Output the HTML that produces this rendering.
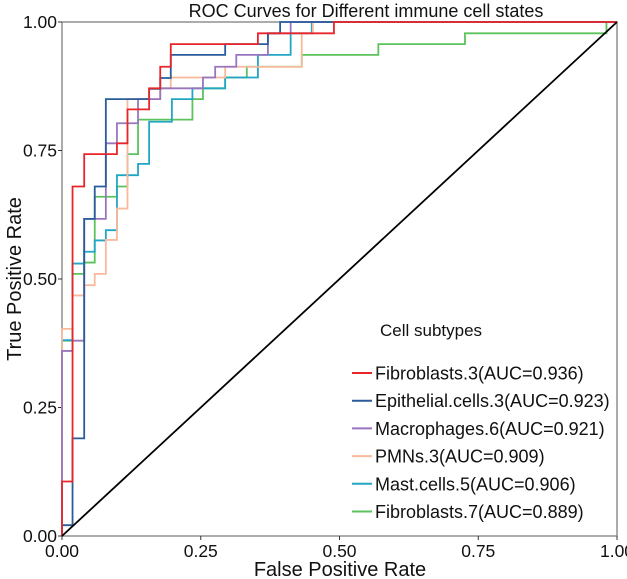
<!DOCTYPE html>
<html><head><meta charset="utf-8"><style>
html,body{margin:0;padding:0;background:#fff;}
svg{display:block;font-family:"Liberation Sans",Arial,sans-serif;}
</style></head><body>
<svg id="chart" width="627" height="579">
<text x="366" y="17" font-size="18" text-anchor="middle" fill="#111">ROC Curves for Different immune cell states</text>
<g id="axes"></g>
<g id="series"></g>
<g id="legend"></g>
<text x="340" y="576" font-size="20" text-anchor="middle" fill="#111">False Positive Rate</text>
<text transform="translate(21,279) rotate(-90)" font-size="20" text-anchor="middle" fill="#111">True Positive Rate</text>
</svg>
<script>
const ticks = [0, 0.25, 0.5, 0.75, 1];
const tickLabels = ["0.00","0.25","0.50","0.75","1.00"];
const seriesNames = ["Fibroblasts.3(AUC=0.936)","Epithelial.cells.3(AUC=0.923)","Macrophages.6(AUC=0.921)","PMNs.3(AUC=0.909)","Mast.cells.5(AUC=0.906)","Fibroblasts.7(AUC=0.889)"];
const seriesColors = ["#e8262a","#2a5b9a","#9a75bf","#f9b99b","#22a6c6","#5cc25c"];
const fprRed = [0,0,0.019,0.019,0.04,0.04,0.099,0.099,0.118,0.118,0.157,0.157,0.177,0.177,0.196,0.196,0.353,0.353,0.49,0.49,1];
const tprRed = [0,0.106,0.106,0.68,0.68,0.743,0.743,0.764,0.764,0.83,0.83,0.871,0.871,0.913,0.913,0.957,0.957,0.978,0.978,1,1];
const fprBlue = [0,0,0.019,0.019,0.04,0.04,0.059,0.059,0.079,0.079,0.157,0.157,0.177,0.177,0.196,0.196,0.294,0.294,0.371,0.371,0.393,0.393,1];
const tprBlue = [0,0.021,0.021,0.19,0.19,0.617,0.617,0.68,0.68,0.85,0.85,0.87,0.87,0.891,0.891,0.936,0.936,0.957,0.957,0.978,0.978,1,1];
const fprPurple = [0,0,0.019,0.019,0.04,0.04,0.079,0.079,0.099,0.099,0.137,0.137,0.177,0.177,0.254,0.254,0.276,0.276,0.314,0.314,0.371,0.371,0.412,0.412,1];
const tprPurple = [0,0.36,0.36,0.38,0.38,0.617,0.617,0.764,0.764,0.803,0.803,0.85,0.85,0.871,0.871,0.892,0.892,0.913,0.913,0.936,0.936,0.978,0.978,1,1];
const fprPeach = [0,0,0.019,0.019,0.04,0.04,0.059,0.059,0.079,0.079,0.099,0.099,0.118,0.118,0.177,0.177,0.196,0.196,0.294,0.294,0.432,0.432,0.452,0.452,1];
const tprPeach = [0,0.403,0.403,0.468,0.468,0.488,0.488,0.51,0.51,0.576,0.576,0.637,0.637,0.85,0.85,0.871,0.871,0.892,0.892,0.913,0.913,0.978,0.978,1,1];
const fprCyan = [0,0,0.019,0.019,0.04,0.04,0.059,0.059,0.079,0.079,0.099,0.099,0.137,0.137,0.157,0.157,0.198,0.198,0.235,0.235,0.294,0.294,0.353,0.353,0.412,0.412,0.45,0.45,1];
const tprCyan = [0,0.381,0.381,0.53,0.53,0.553,0.553,0.575,0.575,0.595,0.595,0.702,0.702,0.724,0.724,0.806,0.806,0.85,0.85,0.871,0.871,0.892,0.892,0.936,0.936,0.978,0.978,1,1];
const fprGreen = [0,0,0.019,0.019,0.04,0.04,0.059,0.059,0.099,0.099,0.118,0.118,0.137,0.137,0.235,0.235,0.254,0.254,0.294,0.294,0.333,0.333,0.432,0.432,0.57,0.57,0.726,0.726,0.981,0.981,1];
const tprGreen = [0,0.38,0.38,0.51,0.51,0.532,0.532,0.66,0.66,0.68,0.68,0.743,0.743,0.81,0.81,0.85,0.85,0.871,0.871,0.892,0.892,0.913,0.913,0.936,0.936,0.957,0.957,0.978,0.978,1,1];
const seriesFpr = [fprRed,fprBlue,fprPurple,fprPeach,fprCyan,fprGreen];
const seriesTpr = [tprRed,tprBlue,tprPurple,tprPeach,tprCyan,tprGreen];

const X0=62, X1=617, Y0=536, Y1=22;
function sx(v){return X0+(X1-X0)*v;}
function sy(v){return Y0-(Y0-Y1)*v;}
const NS="http://www.w3.org/2000/svg";
function mk(tag,attrs,parent){const e=document.createElementNS(NS,tag);for(const k in attrs)e.setAttribute(k,attrs[k]);parent.appendChild(e);return e;}
const axes=document.getElementById('axes');
const frame=mk('rect',{x:X0,y:Y1,width:X1-X0,height:Y0-Y1,fill:'none',stroke:'#7f7f7f','stroke-width':1.3},axes);


ticks.forEach((t,i)=>{
  const xt=mk('line',{x1:sx(t),x2:sx(t),y1:Y0,y2:Y0+4,stroke:'#333'},axes);
  
  
  const xl=mk('text',{x:sx(t),y:Y0+21,'font-size':17.5,'text-anchor':'middle',fill:'#111'},axes);
  xl.textContent=tickLabels[i];
  
  
  const yt=mk('line',{x1:X0-4,x2:X0,y1:sy(t),y2:sy(t),stroke:'#333'},axes);
  
  
  const yl=mk('text',{x:X0-5,y:sy(t)+6,'font-size':17.5,'text-anchor':'end',fill:'#111'},axes);
  yl.textContent=tickLabels[i];
  
  
});
const ser=document.getElementById('series');
for(let s=seriesFpr.length-1;s>=0;s--){
  const pts=seriesFpr[s].map((f,i)=>sx(f)+','+sy(seriesTpr[s][i])).join(' ');
  const pl=mk('polyline',{points:pts,fill:'none',stroke:seriesColors[s],'stroke-width':1.8},ser);
  
  
}
const diag=mk('line',{x1:sx(0),y1:sy(0),x2:sx(1),y2:sy(1),stroke:'#000','stroke-width':1.8},ser);


const leg=document.getElementById('legend');
const lt=mk('text',{x:380,y:336,'font-size':17,fill:'#111'},leg);
lt.textContent='Cell subtypes';


seriesNames.forEach((n,i)=>{
  const y=373+27.7*i;
  const g=mk('g',{},leg);
  
  
  mk('line',{x1:352,x2:372,y1:y,y2:y,stroke:seriesColors[i],'stroke-width':2},g);
  const t=mk('text',{x:375,y:y+6.5,'font-size':18,fill:'#111'},g);
  t.textContent=n;
});
</script>
</body></html>
